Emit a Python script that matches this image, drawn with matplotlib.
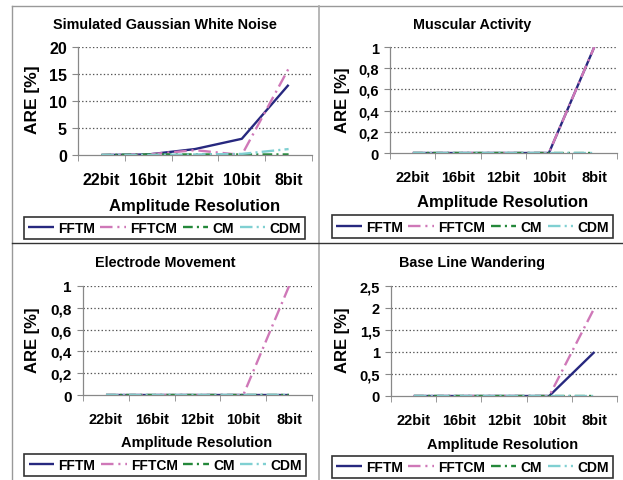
import matplotlib
matplotlib.use("Agg")
import matplotlib.pyplot as plt
from matplotlib.lines import Line2D
from matplotlib.ticker import FuncFormatter, FixedLocator

plt.rcParams['font.family'] = ['Liberation Sans', 'DejaVu Sans']
plt.rcParams['font.weight'] = 'bold'
plt.rcParams['lines.scale_dashes'] = False

categories = ["22bit", "16bit", "12bit", "10bit", "8bit"]
series_names = ["FFTM", "FFTCM", "CM", "CDM"]

noise_fftm = [0, 0.1, 1.1, 3, 13]
noise_fftcm = [0, 0.1, 0.9, 0, 16]
noise_cm = [0, 0.1, 0.1, 0.1, 0.1]
noise_cdm = [0, 0, 0.1, 0.2, 1.1]

muscular_fftm = [0, 0, 0, 0, 1]
muscular_fftcm = [0, 0, 0, 0, 1]
muscular_cm = [0, 0, 0, 0, 0]
muscular_cdm = [0, 0, 0, 0, 0]

electrode_fftm = [0, 0, 0, 0, 0]
electrode_fftcm = [0, 0, 0, 0, 1]
electrode_cm = [0, 0, 0, 0, 0]
electrode_cdm = [0, 0, 0, 0, 0]

baseline_fftm = [0, 0, 0, 0, 1]
baseline_fftcm = [0, 0, 0, 0, 2]
baseline_cm = [0, 0, 0, 0, 0]
baseline_cdm = [0, 0, 0, 0, 0]

titles = ["Simulated Gaussian White Noise", "Muscular Activity",
          "Electrode Movement", "Base Line Wandering"]
yticks_list = [[0, 5, 10, 15, 20], [0, 0.2, 0.4, 0.6, 0.8, 1],
               [0, 0.2, 0.4, 0.6, 0.8, 1], [0, 0.5, 1, 1.5, 2, 2.5]]

colors = ["#27287F", "#CF78B8", "#24883A", "#80D0D2"]
styles = [dict(linestyle='-'),
          dict(dashes=(9, 3.5, 1.5, 3.5)),
          dict(dashes=(7, 3, 1.5, 3)),
          dict(dashes=(9, 3, 1.5, 3))]

W, H = 623, 481
fig = plt.figure(figsize=(W / 100, H / 100), dpi=100)


def fx(px):
    return px / W


def fy(py):
    return 1 - py / H


def fmt(v, pos):
    return ('%g' % v).replace('.', ',')


panels = [
    dict(box=(78, 312, 48, 156), title=(165, 25), ylab=(33, 100), xlab=(195, 207),
         leg=(22, 307, 218, 240), tfs=10.4, yfs=12.5, xfs=12, tickfs=11.5, ytickfs=11.5,
         pad=12.5, data=[noise_fftm, noise_fftcm, noise_cm, noise_cdm]),
    dict(box=(390, 617, 48, 154), title=(472, 25), ylab=(342, 100), xlab=(503, 203),
         leg=(328, 617, 218, 237), tfs=10.4, yfs=12, xfs=12, tickfs=10.5, ytickfs=10.5,
         pad=12, data=[muscular_fftm, muscular_fftcm, muscular_cm, muscular_cdm]),
    dict(box=(83, 312, 287, 396), title=(165, 263), ylab=(33, 340), xlab=(197, 443),
         leg=(22, 308, 457, 475), tfs=10.4, yfs=12, xfs=10.5, tickfs=10.5, ytickfs=11,
         pad=12.5, data=[electrode_fftm, electrode_fftcm, electrode_cm, electrode_cdm]),
    dict(box=(391, 617, 287, 397), title=(472, 263), ylab=(342, 340), xlab=(503, 445),
         leg=(328, 617, 458, 478), tfs=10.4, yfs=12, xfs=10.5, tickfs=10.5, ytickfs=10.5,
         pad=12, data=[baseline_fftm, baseline_fftcm, baseline_cm, baseline_cdm]),
]

for i, p in enumerate(panels):
    l, r, t, b = p['box']
    ax = fig.add_axes([fx(l), fy(b), fx(r - l), (b - t) / H])
    xs = list(range(len(categories)))
    handles = []
    for k, name in enumerate(series_names):
        h, = ax.plot(xs, p['data'][k], color=colors[k], lw=1.7, label=name,
                     solid_capstyle='butt', dash_capstyle='butt', **styles[k])
        handles.append(h)
    yt = yticks_list[i]
    ax.set_xlim(-0.5, len(categories) - 0.5)
    ax.set_ylim(yt[0], yt[-1])
    ax.set_yticks(yt)
    ax.yaxis.set_major_formatter(FuncFormatter(fmt))
    ax.set_xticks(xs)
    ax.set_xticklabels(categories)
    ax.xaxis.set_minor_locator(FixedLocator([x - 0.5 for x in range(len(categories) + 1)]))
    ax.tick_params(axis='x', which='major', length=0, pad=p['pad'], labelsize=p['tickfs'])
    ax.tick_params(axis='x', which='minor', length=4, color='#888888', direction='out')
    ax.tick_params(axis='y', length=4, color='#888888', pad=4, labelsize=p['ytickfs'])
    for v in yt[1:]:
        ax.axhline(v, color='#555555', lw=0.9, dashes=(1, 1.6), zorder=0.5)
    for s in ['top', 'right']:
        ax.spines[s].set_visible(False)
    for s in ['left', 'bottom']:
        ax.spines[s].set_color('#888888')
        ax.spines[s].set_linewidth(0.9)
    ax.patch.set_alpha(0)

    fig.text(fx(p['title'][0]), fy(p['title'][1]), titles[i], ha='center', va='center',
             fontsize=p['tfs'], fontweight='bold')
    fig.text(fx(p['ylab'][0]), fy(p['ylab'][1]), "ARE [%]", ha='center', va='center',
             rotation=90, fontsize=p['yfs'], fontweight='bold')
    fig.text(fx(p['xlab'][0]), fy(p['xlab'][1]), "Amplitude Resolution", ha='center',
             va='center', fontsize=p['xfs'], fontweight='bold')

    ll, lr, lt, lb = p['leg']
    leg = fig.legend(handles=handles, labels=series_names, ncol=4,
                     loc='center',
                     bbox_to_anchor=(fx((ll + lr) / 2), fy((lt + lb) / 2)),
                     bbox_transform=fig.transFigure, frameon=True, fancybox=False,
                     edgecolor='black', fontsize=10.0, handlelength=1.85,
                     handletextpad=0.3, borderpad=0.3, borderaxespad=0,
                     columnspacing=0.4)
    leg.get_frame().set_linewidth(1.2)
    for txt in leg.get_texts():
        txt.set_fontweight('bold')


def fig_line(x0, y0, x1, y1, color, lw):
    fig.add_artist(Line2D([fx(x0), fx(x1)], [fy(y0), fy(y1)], color=color, lw=lw,
                          transform=fig.transFigure))


fig_line(12, 7, 623, 7, '#999999', 1.0)
fig_line(12, 7, 12, 481, '#999999', 1.0)
fig_line(319, 7, 319, 481, '#aaaaaa', 1.2)
fig_line(12, 244, 623, 244, '#333333', 1.0)

fig.savefig("out.png", dpi=100)
